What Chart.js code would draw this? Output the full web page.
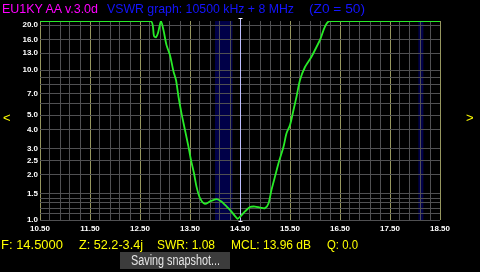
<!DOCTYPE html>
<html>
<head>
<meta charset="utf-8">
<script src="https://cdn.jsdelivr.net/npm/chart.js@4/dist/chart.umd.min.js"></script>
<style>
  html, body { margin: 0; padding: 0; background: #000; }
  #wrap { position: relative; width: 480px; height: 272px; overflow: hidden; background: #000; }
  #swrChart { position: absolute; left: 0; top: 0; }
  .txt { position: absolute; white-space: pre; font-family: "Liberation Sans", sans-serif; font-size: 13px; line-height: 13px; transform-origin: 0 0; }
  .hdr1 { color: #ff00ff; }
  .hdr2 { color: #1414ff; }
  .stat { color: #ffff00; }
  #snapBox { position: absolute; left: 120px; top: 252px; width: 110px; height: 17px; background: #3c3c3c; }
  .snap { color: #e6e6e6; font-size: 14px; line-height: 14px; }
</style>
</head>
<body>
<div id="wrap">
  <canvas id="swrChart" width="480" height="272"></canvas>
  <div class="txt hdr1" data-w="96" style="left:2px; top:2px;">EU1KY AA v.3.0d</div>
  <div class="txt hdr2" data-w="187" style="left:107px; top:2px;">VSWR graph: 10500 kHz + 8 MHz</div>
  <div class="txt hdr2" data-w="56" style="left:309px; top:2px;">(Z0 = 50)</div>
  <div class="txt stat" style="left:3px; top:111px;">&lt;</div>
  <div class="txt stat" style="left:466px; top:111px;">&gt;</div>
  <div class="txt stat" data-w="62" style="left:1px; top:238px;">F: 14.5000</div>
  <div class="txt stat" data-w="64" style="left:79px; top:238px;">Z: 52.2-3.4j</div>
  <div class="txt stat" data-w="58" style="left:157px; top:238px;">SWR: 1.08</div>
  <div class="txt stat" data-w="80" style="left:231px; top:238px;">MCL: 13.96 dB</div>
  <div class="txt stat" data-w="31" style="left:327px; top:238px;">Q: 0.0</div>
  <div id="snapBox"></div>
  <div class="txt snap" data-w="89" style="left:131px; top:253px;">Saving snapshot...</div>
</div>
<script>
// frequency (MHz) and measured SWR, values at the top are clipped by the device
const freqs = [10.5, 12.71, 12.78, 12.82, 12.86, 12.92, 12.97, 13.03, 13.10, 13.17, 13.22, 13.27, 13.33, 13.40,
               13.47, 13.52, 13.58, 13.63, 13.70, 13.80, 13.90, 14.03, 14.13, 14.20, 14.30, 14.45, 14.50, 14.60,
               14.70, 14.80, 14.90, 15.00, 15.07, 15.13, 15.20, 15.27, 15.37, 15.43, 15.50, 15.57, 15.63, 15.70,
               15.80, 15.93, 16.10, 16.29, 18.5];
const swr = [21.3, 21.3, 16.9, 16.6, 17.7, 21.3, 18.5, 14.7, 12.6, 9.8, 8.6, 6.65, 5.15, 3.98,
             3.08, 2.51, 2.05, 1.67, 1.40, 1.28, 1.33, 1.38, 1.33, 1.26, 1.17, 1.02, 1.05, 1.14,
             1.22, 1.23, 1.21, 1.20, 1.29, 1.59, 1.95, 2.39, 3.08, 3.79, 4.30, 5.42, 6.65, 8.6,
             10.5, 12.3, 15.9, 21.3, 21.3];

const xTickLabels = ['10.50', '11.50', '12.50', '13.50', '14.50', '15.50', '16.50', '17.50', '18.50'];
const yTickLabels = ['1.0', '1.5', '2.0', '2.5', '3.0', '4.0', '5.0', '7.0', '10.0', '13.0', '16.0', '20.0'];
const yGrid = [1, 1.1, 1.2, 1.3, 1.4, 1.5, 2, 2.5, 3, 4, 5, 6, 7, 8, 9, 10, 13, 16, 20];
const hamBands = [[14.0, 14.35], [18.068, 18.168]];
const markerFreq = 14.5;

const xMin = 10.5, xMax = 18.5, yMax = 21.3;
const xGrid = [];
for (let i = 0; i <= 40; i++) xGrid.push(+(xMin + i * 0.2).toFixed(2));

const GREY = 'rgb(80,80,82)';
const OLIVE = 'rgb(150,150,95)';

// squeeze the status texts to the width the device font takes
document.querySelectorAll('.txt[data-w]').forEach(el => {
    const w = el.getBoundingClientRect().width;
    el.style.transform = 'scaleX(' + (Number(el.dataset.w) / w) + ')';
});

const bandsPlugin = {
    id: 'bands',
    beforeDraw(chart) {
        const { ctx, chartArea, scales } = chart;
        ctx.save();
        ctx.fillStyle = 'rgb(0,0,72)';
        hamBands.forEach(b => {
            const x1 = scales.x.getPixelForValue(b[0]);
            const x2 = scales.x.getPixelForValue(b[1]);
            ctx.fillRect(x1, chartArea.top, x2 - x1, chartArea.bottom - chartArea.top);
        });
        ctx.restore();
    }
};

const markerPlugin = {
    id: 'marker',
    beforeDatasetsDraw(chart) {
        const { ctx, chartArea, scales } = chart;
        const x = Math.round(scales.x.getPixelForValue(markerFreq)) + 0.5;
        ctx.save();
        ctx.strokeStyle = 'rgb(190,190,255)';
        ctx.lineWidth = 1;
        ctx.beginPath();
        ctx.moveTo(x, chartArea.top - 3);
        ctx.lineTo(x, chartArea.bottom + 2);
        ctx.stroke();
        ctx.strokeStyle = '#fff';
        ctx.beginPath();
        ctx.moveTo(x - 2, chartArea.top - 2.5); ctx.lineTo(x + 2, chartArea.top - 2.5);
        ctx.moveTo(x - 2, chartArea.bottom + 1.5); ctx.lineTo(x + 2, chartArea.bottom + 1.5);
        ctx.stroke();
        ctx.restore();
    }
};

const ctx = document.getElementById('swrChart').getContext('2d');
new Chart(ctx, {
    type: 'line',
    data: {
        datasets: [{
            data: freqs.map((f, i) => ({ x: f, y: swr[i] })),
            borderColor: 'rgb(40,235,40)',
            borderWidth: 1.8,
            pointRadius: 0,
            tension: 0.25
        }]
    },
    options: {
        responsive: false,
        animation: false,
        events: [],
        layout: { padding: { top: 21, right: 40, bottom: 40, left: 0 } },
        plugins: { legend: { display: false }, tooltip: { enabled: false } },
        scales: {
            x: {
                type: 'linear',
                min: xMin,
                max: xMax,
                afterBuildTicks: s => { s.ticks = xGrid.map(v => ({ value: v })); },
                afterFit: s => { s.height = 12; },
                border: { display: false },
                grid: {
                    drawTicks: false,
                    lineWidth: 1,
                    color: c => (c.index % 5 === 0) ? OLIVE : GREY
                },
                ticks: {
                    autoSkip: false,
                    maxRotation: 0,
                    padding: 4,
                    color: '#fff',
                    font: { family: 'Liberation Sans', weight: 'bold', size: 8 },
                    callback: v => xTickLabels.includes(Number(v).toFixed(2)) ? Number(v).toFixed(2) : ''
                }
            },
            y: {
                type: 'logarithmic',
                min: 1,
                max: yMax,
                afterBuildTicks: s => { s.ticks = yGrid.map(v => ({ value: v })); },
                afterFit: s => { s.width = 40; },
                border: { display: false },
                grid: { drawTicks: false, lineWidth: 1, color: GREY },
                ticks: {
                    autoSkip: false,
                    padding: 2,
                    color: '#fff',
                    font: { family: 'Liberation Sans', weight: 'bold', size: 8 },
                    callback: v => yTickLabels.includes(Number(v).toFixed(1)) ? Number(v).toFixed(1) : ''
                }
            }
        }
    },
    plugins: [bandsPlugin, markerPlugin]
});
</script>
</body>
</html>
